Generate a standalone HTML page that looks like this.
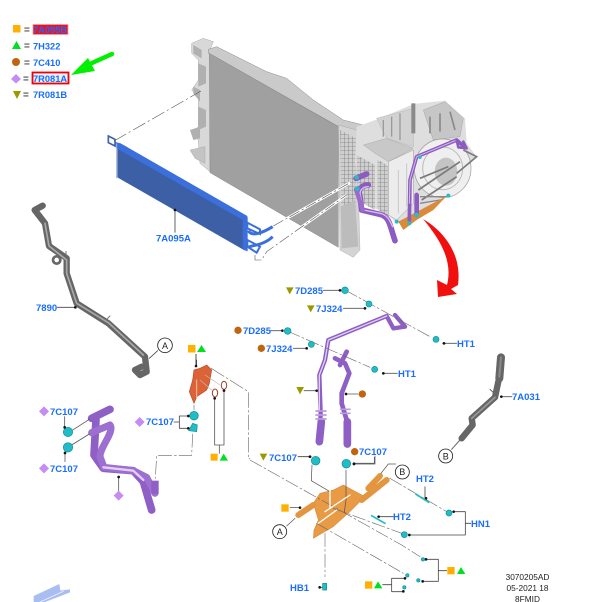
<!DOCTYPE html>
<html><head><meta charset="utf-8"><style>
html,body{margin:0;padding:0;background:#fff}
svg{display:block}
text{font-family:"Liberation Sans",sans-serif}
.b{font-weight:bold;font-size:9.5px;fill:#1a6dff}
</style></head><body>
<svg width="605" height="602" viewBox="0 0 605 602" xmlns="http://www.w3.org/2000/svg">
<defs>
<pattern id="g" width="12" height="12" patternUnits="userSpaceOnUse"><rect width="12" height="12" fill="#cfcfcf"/><path d="M0 0H12M0 0V12" stroke="#808080" stroke-width="2.600"/></pattern>
</defs>
<rect width="605" height="602" fill="#fff"/>

<!-- radiator + transmission, zoom coords -->
<g transform="translate(200,30) scale(.33333)">
<path d="M-25,40L10,25L40,35L30,60V425L0,400L-5,330L-25,310L-5,290V200L-25,180L-5,150V90L-25,70Z" fill="#d8d8d8" stroke="#aaa" stroke-width="1.500"/>
<path d="M-20,45L5,60V85L-20,70ZM-20,170L0,180V215L-20,190ZM-30,300L0,290V325L-20,330ZM-5,100L18,110V160L-5,170ZM-5,230L18,240V290L-5,300Z" fill="#b0b0b0"/>
<path d="M-30,360L15,350V400L-15,385Z" fill="#c4c4c4" stroke="#999"/>
<path d="M25,58L50,50L200,125L260,145L340,210L430,270L490,285L480,310L420,292L25,70Z" fill="#cacaca" stroke="#8f8f8f" stroke-width="1.500"/>
<path d="M28,70L415,290V652L30,428Z" fill="#a0a0a0" stroke="#707070"/>
<path d="M415,285L470,300L480,660L460,682L420,660Z" fill="#d4d4d4" stroke="#999"/>
<path d="M420,300L468,325V620L425,600Z" fill="url(#g)"/>
<path d="M422,530L465,510L475,650L425,655Z" fill="#bcbcbc"/>
<path d="M470,290L540,265L640,222L735,212L795,265L800,340L830,380L770,430L745,495L650,570L590,580L560,550L500,525L465,400Z" fill="#dedede"/>
<path d="M470,375L525,405V540L470,510Z" fill="url(#g)"/>
<path d="M532,388L565,408V558L532,538Z" fill="url(#g)"/>
<path d="M565,395L640,360V520L590,570L565,555Z" fill="#ececec" stroke="#999" stroke-width="1.500"/>
<path d="M595,420V550M620,400V530" stroke="#c8c8c8" stroke-width="3"/>
<path d="M490,345L560,325L640,355L565,395L525,370Z" fill="#c8c8c8" stroke="#999"/>
<path d="M530,265L640,235V350L560,325Z" fill="#d2d2d2" stroke="#a5a5a5"/>
<path d="M550,270V320M575,260V320M600,250V330" stroke="#9a9a9a" stroke-width="4"/>
<path d="M634,220H646V310H634Z" fill="#8a8a8a"/>
<path d="M670,240L735,215L790,265L780,320L700,330Z" fill="#c6c6c6" stroke="#8f8f8f"/>
<path d="M690,260V310M720,250V305M750,245L765,300" stroke="#8a8a8a" stroke-width="5"/>
<ellipse cx="728" cy="415" rx="85" ry="88" fill="#efefef" stroke="#999" stroke-width="2"/>
<ellipse cx="728" cy="415" rx="60" ry="64" fill="none" stroke="#bbb" stroke-width="3"/>
<ellipse cx="738" cy="425" rx="34" ry="42" fill="#c4c4c4"/>
<path d="M655,480L780,395M665,510L770,440M660,445L745,410M790,360L830,380L770,430" stroke="#7a7a7a" stroke-width="5" fill="none"/>
<path d="M660,500L740,500M660,520L720,510" stroke="#888" stroke-width="4"/>
<path d="M595,575L740,498L700,540L650,570L610,600Z" fill="#d98a3a"/>
<path d="M220,588L450,458M200,665L440,495" stroke="#fff" stroke-width="8" fill="none"/>
<path d="M220,588L450,458M165,675V690H185L200,665L440,495" stroke="#555" stroke-width="1.800" fill="none" stroke-dasharray="34 8 6 8"/>
<g fill="none" stroke-linecap="round" stroke-linejoin="round">
<path d="M500,432L468,445" stroke="#8c5cc0" stroke-width="17"/>
<path d="M505,465C490,465 470,475 480,500L485,540L540,553C570,560 570,590 585,632" stroke="#8c5cc0" stroke-width="17"/>
<path d="M505,470C490,470 475,480 482,500L490,540L540,550C565,555 570,575 578,590" stroke="#d9bdf0" stroke-width="4"/>
<path d="M468,478L488,540" stroke="#9a6cc9" stroke-width="13"/>
<path d="M628,570L630,450L650,380L770,330L795,352" stroke="#8c5cc0" stroke-width="11"/>
<path d="M628,520L630,450L650,380L770,330" stroke="#d3b8ec" stroke-width="3"/>
<path d="M650,555V495" stroke="#8c5cc0" stroke-width="14"/>
<path d="M770,330L775,352L800,355L790,335" stroke="#8c5cc0" stroke-width="8"/>
</g>
<g fill="#28bcc6"><circle cx="470" cy="442" r="7"/><circle cx="472" cy="476" r="7"/><circle cx="590" cy="575" r="6"/><circle cx="628" cy="580" r="6"/><circle cx="650" cy="555" r="7"/><circle cx="660" cy="382" r="5"/><circle cx="745" cy="497" r="6"/></g>
</g>

<!-- cooler -->
<g transform="translate(100,130) scale(.33333)">
<path d="M25,18L45,28V48L25,38Z" fill="none" stroke="#3f63ae" stroke-width="5"/>
<path d="M52,52L435,268V362L52,142Z" fill="#3c5fa6"/>
<path d="M46,36L62,40L442,258V278L48,54Z" fill="#3a6fdc"/>
<path d="M50,40V145" stroke="#9fb5e0" stroke-width="3"/>
<path d="M428,256L443,262V364L428,358Z" fill="#3a6fdc"/>
<path d="M442,278L480,298V312L442,295ZM442,330L480,350L470,368L442,350Z" fill="none" stroke="#3a6fdc" stroke-width="6"/>
<path d="M445,302C455,322 490,307 518,290M445,352C455,345 490,347 518,320" fill="none" stroke="#3a6fdc" stroke-width="9"/>
<path d="M225,240V308" stroke="#444" stroke-width="2.500"/><circle cx="225" cy="240" r="4" fill="#111"/>
</g>
<path d="M114,141L201,91" stroke="#555" stroke-width=".6" fill="none" stroke-dasharray="14 3 2 3"/>

<!-- legend -->
<rect x="13" y="25" width="7.500" height="7.500" fill="#ffb000"/>
<path d="M12,49L21,49L16.500,41Z" fill="#00e020"/>
<circle cx="16" cy="62" r="4" fill="#c0640f"/>
<path d="M16,74L21,79L16,83.500L11,79Z" fill="#c58cf5"/>
<path d="M13,91H21L17,99Z" fill="#9a9a00"/>
<text x="24" y="33" font-size="10" font-weight="bold" fill="#555">=</text>
<text x="24" y="49" font-size="10" font-weight="bold" fill="#555">=</text>
<text x="24" y="66" font-size="10" font-weight="bold" fill="#555">=</text>
<text x="23" y="82" font-size="10" font-weight="bold" fill="#555">=</text>
<text x="23" y="98" font-size="10" font-weight="bold" fill="#555">=</text>
<rect x="33" y="24.500" width="35" height="10" fill="#f01020" stroke="#f4a0a0" stroke-width=".8"/>
<text class="b" x="33" y="33" style="font-size:9.300px">7A095B</text>
<text class="b" x="33" y="49.500" style="font-size:9.300px">7H322</text>
<text class="b" x="33" y="66" style="font-size:9.300px">7C410</text>
<rect x="32.500" y="72.500" width="36" height="11" fill="#e8f0ff" stroke="#f00000" stroke-width="1.800"/>
<text class="b" x="33" y="82" style="font-size:9.300px">7R081A</text>
<text class="b" x="33" y="98" style="font-size:9.300px">7R081B</text>
<path d="M112,54L92,63" stroke="#00f000" stroke-width="4.500" stroke-linecap="round"/>
<path d="M71,75L88,58L95,71Z" fill="#00f000"/>

<!-- red arrow -->
<path d="M423,219C445,232 462,255 458,285L451,289L457,294L438,297L437,280L447,285C452,265 445,245 423,219Z" fill="#f01010"/>

<!-- 7890 pipe -->
<g transform="translate(0,190) scale(.33333)" fill="none" stroke-linecap="round" stroke-linejoin="round">
<path d="M128,47L104,60L135,100L147,168L200,205L200,250L230,340L325,400L435,500L440,545L420,555L405,540L425,530" stroke="#666" stroke-width="19"/>
<path d="M135,100L147,168L200,210L200,250L230,340L325,398L430,495" stroke="#aaa" stroke-width="5"/>
<circle cx="170" cy="210" r="11" stroke="#666" stroke-width="8"/>
<path d="M320,388L330,378M198,192V184" stroke="#777" stroke-width="3"/>
<path d="M172,352H226M448,505L473,482" stroke="#444" stroke-width="2.400"/>
<circle cx="226" cy="352" r="4" fill="#111" stroke="none"/>
<circle cx="495" cy="466" r="22" fill="#fff" stroke="#222" stroke-width="2.500"/>
</g>
<text x="165" y="349" font-size="9" text-anchor="middle" fill="#222">A</text>

<!-- purple left pipes -->
<g transform="translate(0,360) scale(.33333)" fill="none" stroke-linecap="round" stroke-linejoin="round">
<path d="M330,148L275,175M288,180L282,285L310,325L400,332L430,365L455,450" stroke="#8e5fc4" stroke-width="23"/>
<path d="M275,218L330,195C345,215 300,260 300,290L312,322L400,332L440,352L465,400" stroke="#9c6fd0" stroke-width="21"/>
<path d="M310,322L400,332L430,360" stroke="#e3cff5" stroke-width="7"/>
<path d="M465,362V402" stroke="#8e5fc4" stroke-width="22" stroke-linecap="butt"/>
<path d="M268,178L215,212M268,222L215,255M194,170V205M195,275V305M356,350V395" stroke="#555" stroke-width="2.400"/>
<circle cx="204" cy="216" r="14" fill="#22bcc6" stroke="#0f8f99" stroke-width="2"/>
<circle cx="204" cy="262" r="14" fill="#22bcc6" stroke="#0f8f99" stroke-width="2"/>
<g fill="#111" stroke="none"><circle cx="194" cy="202" r="4"/><circle cx="195" cy="279" r="4"/><circle cx="356" cy="351" r="4"/></g>
<path d="M356,392L371,407L356,422L341,407Z" fill="#c58cf5" stroke="none"/>
<path d="M132,139L147,154L132,169L117,154Z" fill="#c58cf5" stroke="none"/>
<path d="M132,310L147,325L132,340L117,325Z" fill="#c58cf5" stroke="none"/>
<path d="M419,171L434,186L419,201L404,186Z" fill="#c58cf5" stroke="none"/>
<!-- red bracket -->
<path d="M582,30L600,25L620,15L635,30L628,70L620,90L590,110L582,130L568,95L578,60Z" fill="#dc6237" stroke="#b84a25" stroke-width="2"/>
<path d="M590,20V0" stroke="#444" stroke-width="2"/>
<path d="M590,60L590,115" stroke="#f2c0a8" stroke-width="3"/>
<path d="M600,60L635,90M615,45L660,75" stroke="#bbb" stroke-width="2"/>
<ellipse cx="672" cy="76" rx="8" ry="12" stroke="#a04030" stroke-width="3" fill="#fff"/>
<ellipse cx="645" cy="99" rx="8" ry="12" stroke="#a04030" stroke-width="3" fill="#fff"/>
<path d="M644,115V255H672V92M658,255V280" stroke="#555" stroke-width="2.400"/>
<g fill="#111" stroke="none"><circle cx="644" cy="115" r="4"/><circle cx="672" cy="92" r="4"/></g>
<path d="M522,186H538M538,168V205M538,168H565M538,205H565" stroke="#444" stroke-width="2.400"/>
<g fill="#111" stroke="none"><circle cx="565" cy="168" r="4"/><circle cx="565" cy="205" r="4"/></g>
<circle cx="582" cy="167" r="13" fill="#22bcc6" stroke="#0f8f99" stroke-width="2"/>
<path d="M566,212L578,190L592,195L590,215Z" fill="#22bcc6" stroke="#0f8f99" stroke-width="2"/>
<path d="M582,135V150M578,222L575,286H470L466,355" stroke="#666" stroke-width="1.800" stroke-dasharray="40 8 6 8"/>
<path d="M634,25L745,95V296H750" stroke="#666" stroke-width="1.800" stroke-dasharray="45 8 6 8"/>
<rect x="632" y="281" width="21" height="21" fill="#ffb000" stroke="none"/>
<path d="M659,302H684L671,281Z" fill="#00e020" stroke="none"/>
<path d="M101,726V708L178,672L181,692L210,688V697L135,726Z" fill="#a9bdf0" stroke="none"/>
<path d="M120,726L190,694" stroke="#fff" stroke-width="2"/>
</g>
<rect x="188" y="345" width="7.500" height="7.500" fill="#ffb000"/>
<path d="M197,352H206L201.500,345Z" fill="#00e020"/>
<path d="M196,354V367" stroke="#222" stroke-width=".8"/><circle cx="196" cy="366" r="1.300" fill="#111"/>

<!-- right purple tubes -->
<g transform="translate(230,270) scale(.33333)" fill="none" stroke-linecap="round" stroke-linejoin="round">
<path d="M268,518L272,430L268,315L285,270L295,210L470,138L490,175L525,170L495,135" stroke="#8e5fc4" stroke-width="13"/>
<path d="M268,420V315L285,270L295,210L470,138" stroke="#e3cff5" stroke-width="4"/>
<path d="M268,515L274,455" stroke="#8e5fc4" stroke-width="23"/>
<path d="M352,522L350,450L335,400L335,370L358,310L345,280L315,265M330,285L350,245" stroke="#8e5fc4" stroke-width="14"/>
<path d="M352,522L352,455" stroke="#8e5fc4" stroke-width="23"/>
<path d="M258,423H288M258,435H288M258,447H288M332,418H360M332,430H360" stroke="#b99ce0" stroke-width="5"/>
<path d="M280,61H330M340,115H405M122,182H157M190,235H230M638,220H680M460,310H502M222,362H260M348,372H384M812,380H846M204,560H240M372,580H433V562" stroke="#555" stroke-width="2.400"/>
<g fill="#111" stroke="none"><circle cx="330" cy="61" r="4"/><circle cx="405" cy="115" r="4"/><circle cx="157" cy="182" r="4"/><circle cx="230" cy="235" r="4"/><circle cx="642" cy="220" r="4"/><circle cx="460" cy="310" r="4"/><circle cx="260" cy="362" r="4"/><circle cx="348" cy="372" r="4"/><circle cx="814" cy="380" r="4"/><circle cx="240" cy="560" r="4"/><circle cx="372" cy="581" r="4"/></g>
<path d="M345,60L600,200M172,183L420,292" stroke="#666" stroke-width="1.800" stroke-dasharray="40 8 6 8"/>
<g fill="#22bcc6" stroke="#0f8f99" stroke-width="2"><circle cx="345" cy="61" r="10"/><circle cx="417" cy="102" r="9"/><circle cx="173" cy="183" r="10"/><circle cx="244" cy="223" r="9"/><circle cx="618" cy="208" r="9"/><circle cx="434" cy="298" r="9"/><circle cx="257" cy="572" r="13"/><circle cx="349" cy="581" r="13"/></g>
<path d="M168,52H191L179,73ZM231,106H254L242,127ZM199,351H222L210,373ZM89,551H112L100,572Z" fill="#9a9a00" stroke="none"/>
<g fill="#c0640f" stroke="none"><circle cx="24" cy="181" r="11"/><circle cx="94" cy="235" r="11"/><circle cx="397" cy="372" r="11"/><circle cx="374" cy="545" r="11"/></g>
<!-- 7A031 -->
<path d="M813,262L808,325" stroke="#666" stroke-width="24"/>
<path d="M806,330L795,382L725,445L728,465L695,505" stroke="#666" stroke-width="19"/>
<path d="M813,262L808,320" stroke="#8a8a8a" stroke-width="6"/>
<path d="M795,382L725,445" stroke="#9a9a9a" stroke-width="5"/>
<path d="M780,358L795,372M690,510L665,538" stroke="#666" stroke-width="3"/>
<circle cx="647" cy="558" r="21" fill="#fff" stroke="#222" stroke-width="2.500"/>
</g>
<text x="445.700" y="459.500" font-size="9" text-anchor="middle" fill="#222">B</text>

<!-- lower bracket -->
<g transform="translate(250,440) scale(.33333)" fill="none" stroke-linecap="round" stroke-linejoin="round">
<path d="M210,160L250,150L280,135L345,170L300,215L250,260L190,295L192,270L205,240L190,190Z" fill="#e89a45" stroke="#cc7f2e" stroke-width="1.500"/>
<path d="M190,195L145,225M335,180L410,120M355,145L390,108" stroke="#e3963f" stroke-width="18"/>
<path d="M120,203H150M375,48V72H312M145,50H180M186,75L184,122L240,155V190M288,90V180L283,215" stroke="#555" stroke-width="2.200"/>
<path d="M0,60L455,315L510,350M200,250L460,400M225,280V410M250,205L455,280M420,115L590,215" stroke="#666" stroke-width="1.800" stroke-dasharray="40 8 6 8"/>
<path d="M225,215L300,165M205,250L260,210M240,205V150" stroke="#fff" stroke-width="4"/>
<path d="M525,140V175M385,230H430M610,215H646V285H480M646,250H662M528,358H565V424H518M565,392H590M398,434H425M425,415V455H460M425,415H465M208,442H224" stroke="#444" stroke-width="2.400"/>
<g fill="#111" stroke="none"><circle cx="150" cy="203" r="4"/><circle cx="180" cy="50" r="4"/><circle cx="312" cy="72" r="4"/><circle cx="528" cy="175" r="4"/><circle cx="386" cy="230" r="4"/><circle cx="611" cy="215" r="4"/><circle cx="478" cy="285" r="4"/><circle cx="528" cy="358" r="4"/><circle cx="518" cy="424" r="4"/><circle cx="465" cy="415" r="4"/><circle cx="460" cy="454" r="4"/><circle cx="209" cy="442" r="4"/></g>
<path d="M498,163L536,187M365,227L405,250" stroke="#22bcc6" stroke-width="5"/>
<g fill="#22bcc6" stroke="#0f8f99" stroke-width="2"><circle cx="597" cy="219" r="9"/><circle cx="463" cy="284" r="9"/><circle cx="519" cy="358" r="5"/><circle cx="505" cy="421" r="5"/><circle cx="472" cy="406" r="5"/><circle cx="463" cy="442" r="5"/><path d="M218,430H230V450H218Z"/></g>
<rect x="94" y="193" width="22" height="22" fill="#ffb000" stroke="none"/>
<rect x="592" y="381" width="22" height="22" fill="#ffb000" stroke="none"/>
<path d="M621,402H646L633,381Z" fill="#00e020" stroke="none"/>
<rect x="345" y="424" width="22" height="22" fill="#ffb000" stroke="none"/>
<path d="M372,445H397L384,424Z" fill="#00e020" stroke="none"/>
<path d="M110,258L135,235M415,72L393,100M415,72H437" stroke="#555" stroke-width="2.200"/>
<circle cx="89" cy="275" r="21" fill="#fff" stroke="#222" stroke-width="2.500"/>
<circle cx="457" cy="96" r="21" fill="#fff" stroke="#222" stroke-width="2.500"/>
</g>
<text x="279.700" y="535" font-size="9" text-anchor="middle" fill="#222">A</text>
<text x="402.300" y="475" font-size="9" text-anchor="middle" fill="#222">B</text>

<!-- labels -->
<text class="b" x="156" y="241.500">7A095A</text>
<text class="b" x="36" y="311">7890</text>
<text class="b" x="50" y="415">7C107</text>
<text class="b" x="50" y="472">7C107</text>
<text class="b" x="146" y="425">7C107</text>
<text class="b" x="295" y="294">7D285</text>
<text class="b" x="316" y="312">7J324</text>
<text class="b" x="243" y="334">7D285</text>
<text class="b" x="266" y="352">7J324</text>
<text class="b" x="457" y="347">HT1</text>
<text class="b" x="398" y="377">HT1</text>
<text class="b" x="512" y="400">7A031</text>
<text class="b" x="269" y="461">7C107</text>
<text class="b" x="359" y="455">7C107</text>
<text class="b" x="416" y="482">HT2</text>
<text class="b" x="393" y="520">HT2</text>
<text class="b" x="471" y="527">HN1</text>
<text class="b" x="290" y="591">HB1</text>
<text x="527.500" y="580" font-size="8.300" text-anchor="middle" fill="#222">3070205AD</text>
<text x="527.500" y="591" font-size="8.300" text-anchor="middle" fill="#222">05-2021 18</text>
<text x="527.500" y="602" font-size="8.300" text-anchor="middle" fill="#222">8FMID</text>
</svg>
</body></html>
